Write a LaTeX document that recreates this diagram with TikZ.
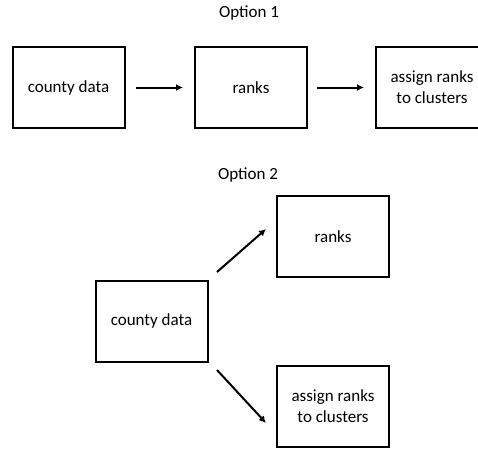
\documentclass[tikz,border=0pt]{standalone}
\usepackage{fontspec}
\setmainfont{Carlito}
\usetikzlibrary{arrows.meta}
\tikzset{
  stepbox/.style={draw=black, line width=2pt, minimum width=112pt, minimum height=81pt,
    inner sep=0pt, align=center, font=\fontsize{17}{21}\selectfont},
  title/.style={font=\fontsize{17}{21}\selectfont, inner sep=0pt},
  flow/.style={line width=2pt, -{Latex[length=7pt,width=7pt]}}
}
\begin{document}
\begin{tikzpicture}[x=1pt, y=-1pt]
\useasboundingbox (0,0) rectangle (478,448);
\clip (0,0) rectangle (478,448);
% Option 1: linear pipeline
\node[title] (t1) at (249,13) {Option 1};
\node[stepbox] (a1) at (68.5,87.5) {county data};
\node[stepbox] (b1) at (251,87.5) {ranks};
\node[stepbox] (c1) at (432,87.5) {assign ranks\\to clusters};
\draw[flow, shorten <=10pt, shorten >=11pt] (a1.east) -- (b1.west);
\draw[flow, shorten <=9pt, shorten >=11pt] (b1.east) -- (c1.west);
% Option 2: branching
\node[title] (t2) at (248,175) {Option 2};
\node[stepbox] (a2) at (151.5,321) {county data};
\node[stepbox] (b2) at (333,236.5) {ranks};
\node[stepbox] (c2) at (333,406.5) {assign ranks\\to clusters};
\coordinate (u0) at (217,272);
\coordinate (u1) at (266,229);
\coordinate (d0) at (217,370);
\coordinate (d1) at (266,423);
\draw[flow] (u0) -- (u1);
\draw[flow] (d0) -- (d1);
\end{tikzpicture}
\end{document}
